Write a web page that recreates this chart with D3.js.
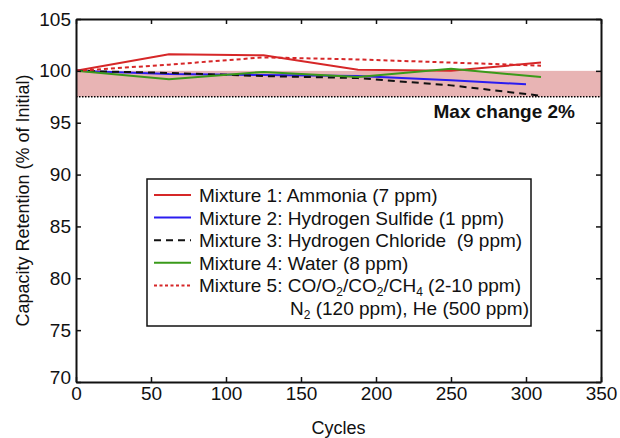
<!DOCTYPE html>
<html>
<head>
<meta charset="utf-8">
<script src="https://cdn.jsdelivr.net/npm/d3@7"></script>
<style>
  body { margin: 0; background: #fff; }
  svg { font-family: "Liberation Sans", Arial, sans-serif; }
  text { white-space: pre; }
</style>
</head>
<body>
<div id="chart"></div>
<script>
// data
var cycles = [0, 62, 125, 188, 250, 310];
var ammonia = [100, 101.6, 101.5, 100.1, 100.0, 100.8];
var sulfide = [100, 99.7, 99.6, 99.5, 99.1, 98.7];
var chloride = [100, 99.8, 99.5, 99.3, 98.6, 97.6];
var water = [100, 99.2, 99.9, 99.4, 100.2, 99.4];
var mixture5 = [100, 100.6, 101.3, 101.1, 100.8, 100.5];
var sulfideCycles = [0, 62, 125, 188, 250, 300];
var xTicks = [0, 50, 100, 150, 200, 250, 300, 350];
var yTicks = [70, 75, 80, 85, 90, 95, 100, 105];
var bandTop = 100, bandBottom = 97.5;

var width = 620, height = 438,
    margin = { top: 19, right: 19, bottom: 56, left: 76 };

var series = [
  { name: "Mixture 1: Ammonia (7 ppm)", x: cycles, y: ammonia, color: "#d62728", dash: null },
  { name: "Mixture 2: Hydrogen Sulfide (1 ppm)", x: sulfideCycles, y: sulfide, color: "#2b1cf0", dash: null },
  { name: "Mixture 3: Hydrogen Chloride  (9 ppm)", x: cycles, y: chloride, color: "#111", dash: "7,5" },
  { name: "Mixture 4: Water (8 ppm)", x: cycles, y: water, color: "#3a9a1a", dash: null },
  { name: "Mixture 5", x: cycles, y: mixture5, color: "#d62728", dash: "4,3" }
];

var x = d3.scaleLinear().domain([0, 350]).range([margin.left, width - margin.right]);
var y = d3.scaleLinear().domain([70, 105]).range([height - margin.bottom, margin.top]);

var svg = d3.select("#chart").append("svg")
    .attr("width", width).attr("height", height);

// tolerance band
svg.append("rect")
    .attr("x", x(0)).attr("y", y(bandTop))
    .attr("width", x(350) - x(0)).attr("height", y(bandBottom) - y(bandTop))
    .attr("fill", "#e8b4b4");
svg.append("line")
    .attr("x1", x(0)).attr("x2", x(350))
    .attr("y1", y(bandBottom)).attr("y2", y(bandBottom))
    .attr("stroke", "#000").attr("stroke-width", 1.6)
    .attr("stroke-dasharray", "1.5,1.5");
svg.append("text")
    .attr("x", 575).attr("y", 118)
    .attr("text-anchor", "end")
    .attr("font-size", 19).attr("font-weight", "bold").attr("fill", "#111")
    .text("Max change 2%");

// lines
var line = d3.line()
    .x(function(d) { return x(d[0]); })
    .y(function(d) { return y(d[1]); });

series.forEach(function(s) {
  svg.append("path")
      .datum(d3.zip(s.x, s.y))
      .attr("fill", "none")
      .attr("stroke", s.color)
      .attr("stroke-width", 2)
      .attr("stroke-dasharray", s.dash)
      .attr("d", line);
});

// axes
var tickFmt = d3.format("d");
function styleText(g) {
  g.selectAll("text").attr("font-size", 19).attr("fill", "#111")
      .attr("font-family", "Liberation Sans, Arial");
}
svg.append("g")
    .attr("transform", "translate(0," + y(70) + ")")
    .call(d3.axisBottom(x).tickValues(xTicks).tickFormat(tickFmt).tickSizeInner(-5).tickSizeOuter(0).tickPadding(5))
    .call(styleText);
svg.append("g")
    .attr("transform", "translate(0," + y(105) + ")")
    .call(d3.axisTop(x).tickValues(xTicks).tickFormat("").tickSizeInner(-5).tickSizeOuter(0));
svg.append("g")
    .attr("transform", "translate(" + x(0) + ",0)")
    .call(d3.axisLeft(y).tickValues(yTicks).tickFormat(tickFmt).tickSizeInner(-5).tickSizeOuter(0).tickPadding(5))
    .call(styleText)
    .call(function(g) {
      // lowest label sits a little high, as in the original
      g.selectAll(".tick text").filter(function(d) { return d === 70; }).attr("dy", "0.1em");
    });
svg.append("g")
    .attr("transform", "translate(" + x(350) + ",0)")
    .call(d3.axisRight(y).tickValues(yTicks).tickFormat("").tickSizeInner(-5).tickSizeOuter(0));
svg.selectAll(".domain").attr("stroke", "#111").attr("stroke-width", 2);
svg.selectAll(".tick line").attr("stroke", "#111").attr("stroke-width", 1.5);

// axis titles
svg.append("text")
    .attr("x", (x(0) + x(350)) / 2).attr("y", 434)
    .attr("text-anchor", "middle").attr("font-size", 18).attr("fill", "#111")
    .text("Cycles");
svg.append("text")
    .attr("transform", "translate(29," + (y(87.5)) + ") rotate(-90)")
    .attr("text-anchor", "middle").attr("font-size", 18).attr("fill", "#111")
    .text("Capacity Retention (% of Initial)");

// legend
var lg = svg.append("g").attr("transform", "translate(147,179)");
lg.append("rect")
    .attr("width", 384).attr("height", 147)
    .attr("fill", "#fff").attr("stroke", "#111").attr("stroke-width", 1.5);
var rowH = 22.6;
series.forEach(function(s, i) {
  var yy = 16 + i * rowH;
  lg.append("line")
      .attr("x1", 7).attr("x2", 44).attr("y1", yy).attr("y2", yy)
      .attr("stroke", s.color).attr("stroke-width", 2)
      .attr("stroke-dasharray", s.dash === "4,3" ? "3,2.5" : s.dash);
  var t = lg.append("text")
      .attr("x", 52).attr("y", yy + 7)
      .attr("font-size", 19).attr("fill", "#111");
  if (i < 4) {
    t.text(s.name);
  } else {
    t.append("tspan").text("Mixture 5: CO/O");
    t.append("tspan").attr("font-size", 12).attr("dy", 4).text("2");
    t.append("tspan").attr("dy", -4).text("/CO");
    t.append("tspan").attr("font-size", 12).attr("dy", 4).text("2");
    t.append("tspan").attr("dy", -4).text("/CH");
    t.append("tspan").attr("font-size", 12).attr("dy", 4).text("4");
    t.append("tspan").attr("dy", -4).text(" (2-10 ppm)");
  }
});
var t2 = lg.append("text")
    .attr("x", 143).attr("y", 16 + 5 * rowH + 7)
    .attr("font-size", 19).attr("fill", "#111");
t2.append("tspan").text("N");
t2.append("tspan").attr("font-size", 12).attr("dy", 4).text("2");
t2.append("tspan").attr("dy", -4).text(" (120 ppm), He (500 ppm)");
</script>
</body>
</html>
